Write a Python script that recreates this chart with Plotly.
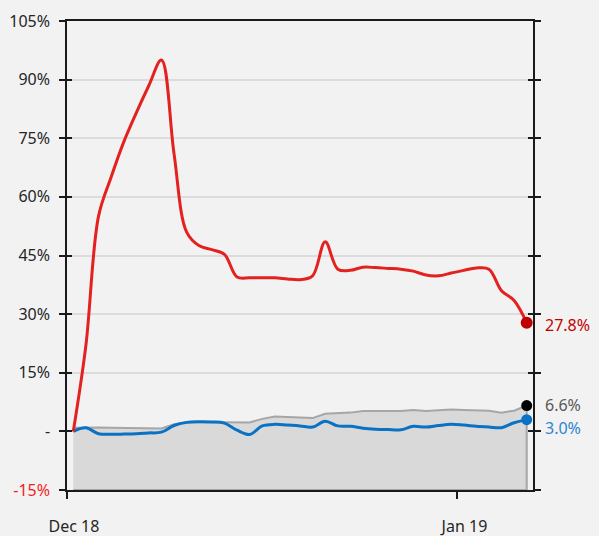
import plotly.graph_objects as go
import pandas as pd

dates = pd.date_range("2018-12-01 12:00", periods=37, freq="D")

red_vals = [0, 22, 55, 65, 74, 81.5, 88.5, 95, 71, 51, 47.5, 46.5, 45.3, 39.5, 39.3,
            39.3, 39.3, 39, 38.8, 39.8, 48.5, 41.5, 41.2, 42, 41.9, 41.7, 41.5, 41,
            40, 39.8, 40.5, 41.2, 41.8, 41.5, 36, 33.5, 27.8]
blue_vals = [0, 0.9, -0.6, -0.75, -0.7, -0.6, -0.4, -0.2, 1.5, 2.3, 2.45, 2.4, 2.1,
             0.3, -0.8, 1.4, 1.8, 1.6, 1.4, 1.1, 2.6, 1.4, 1.3, 0.8, 0.55, 0.45, 0.4,
             1.3, 1.1, 1.5, 1.8, 1.6, 1.3, 1.1, 0.95, 2.2, 3.0]
gray_vals = [0.9, 1.0, 1.0, 0.95, 0.9, 0.85, 0.8, 0.75, 1.8, 2.3, 2.4, 2.35, 2.3, 2.2,
             2.3, 3.2, 3.8, 3.7, 3.6, 3.4, 4.5, 4.6, 4.8, 5.2, 5.2, 5.2, 5.2, 5.5, 5.2,
             5.4, 5.6, 5.5, 5.4, 5.3, 4.8, 5.3, 6.6]

y_ticks = [-15, 0, 15, 30, 45, 60, 75, 90, 105]
y_ticktext = ["<span style='color:#f01e1e'>-15%</span>", "-", "15%", "30%", "45%",
              "60%", "75%", "90%", "105%"]
x_ticks = ["2018-12-01", "2019-01-01"]
x_ticktext = ["Dec 18", "Jan 19"]
y_floor = -15

red_c = "#e3211f"
red_dot = "#c00000"
blue_c = "#0a72c4"
gray_line = "#a6a6a6"
gray_fill = "#d9d9d9"

fig = go.Figure()

xs = list(dates) + list(dates[::-1])
ys = gray_vals + [y_floor] * len(gray_vals)
fig.add_trace(go.Scatter(x=xs, y=ys, fill="toself", fillcolor=gray_fill,
                         line=dict(color=gray_line, width=2), mode="lines",
                         hoverinfo="skip", showlegend=False))
fig.add_trace(go.Scatter(x=dates, y=blue_vals, mode="lines",
                         line=dict(color=blue_c, width=3, shape="spline", smoothing=1),
                         showlegend=False))
fig.add_trace(go.Scatter(x=dates, y=red_vals, mode="lines",
                         line=dict(color=red_c, width=3, shape="spline", smoothing=1),
                         showlegend=False))

ends = [(red_vals[-1], red_dot, 12, "#c00000", -2),
        (gray_vals[-1], "#000000", 11, "#595959", 1),
        (blue_vals[-1], blue_c, 11, "#2e86d1", -8)]
for v, c, s, tc, ysh in ends:
    fig.add_trace(go.Scatter(x=[dates[-1]], y=[v], mode="markers",
                             marker=dict(color=c, size=s), showlegend=False))
    fig.add_annotation(x=dates[-1], y=v, text=f"{v:.1f}%", showarrow=False,
                       xanchor="left", xshift=16, yshift=ysh,
                       font=dict(color=tc, size=16, family="Noto Sans"))

# dummy trace for overlay axes (inside ticks)
fig.add_trace(go.Scatter(x=[], y=[], xaxis="x2", yaxis="y2", showlegend=False))

xrange = ["2018-12-01", "2019-01-07"]
yrange = [-15, 105]

fig.update_layout(
    width=599, height=536,
    margin=dict(l=67, r=66, t=21, b=46),
    paper_bgcolor="#f2f2f2", plot_bgcolor="#f2f2f2",
    font=dict(family="Noto Sans", size=16, color="#262626"),
    xaxis=dict(range=xrange, tickvals=x_ticks, ticktext=x_ticktext, showgrid=False,
               showline=True, linecolor="#1a1a1a", linewidth=1.5, mirror=True,
               ticks="outside", ticklen=7, tickcolor="#1a1a1a", tickwidth=1.5,
               ticklabelstandoff=14, ticklabelshift=7, zeroline=False, automargin=False),
    yaxis=dict(range=yrange, tickvals=y_ticks, ticktext=y_ticktext, showgrid=True,
               gridcolor="#dcdcdc", gridwidth=1.5, showline=True, linecolor="#1a1a1a",
               linewidth=1.5, mirror="allticks", ticks="outside", ticklen=6,
               tickcolor="#1a1a1a", tickwidth=1.5, ticklabelstandoff=6, zeroline=False,
               automargin=False),
    xaxis2=dict(range=xrange, overlaying="x", anchor="y", tickvals=x_ticks,
                showticklabels=False, showgrid=False, ticks="inside", ticklen=7,
                tickcolor="#1a1a1a", tickwidth=1.5, zeroline=False, showline=False,
                automargin=False),
    yaxis2=dict(range=yrange, overlaying="y", anchor="x", tickvals=y_ticks,
                showticklabels=False, showgrid=False, ticks="inside", ticklen=5,
                mirror="allticks", tickcolor="#1a1a1a", tickwidth=1.5,
                zeroline=False, showline=False, automargin=False),
)

fig.write_html("out.html", config={"displayModeBar": False},
               post_script="document.body.style.margin='0';")
